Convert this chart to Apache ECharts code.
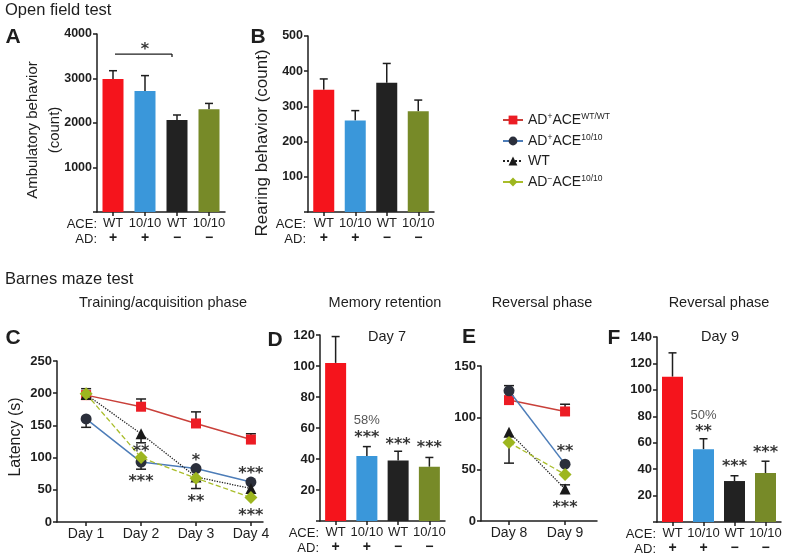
<!DOCTYPE html>
<html><head><meta charset="utf-8">
<script src="https://cdn.jsdelivr.net/npm/echarts@6/dist/echarts.min.js"></script>
<style>html,body{margin:0;padding:0;background:#fff}#c{width:788px;height:557px}</style>
</head><body><div id="c"></div>
<script>
// ---------- data ----------
const aceLabels = ['WT', '10/10', 'WT', '10/10'];
const adLabels = ['+', '+', '\u2212', '\u2212'];
const barColors = ['#f5141c', '#3a97da', '#222222', '#778a28'];

const ambulatoryMean = [2990, 2720, 2065, 2310];
const ambulatoryErrTop = [3175, 3065, 2180, 2440];
const ambulatorySig = [0, 2, 3550];
const rearingMean = [347, 260, 367, 286];
const rearingErrTop = [378, 288, 422, 318];
const day7Mean = [102, 42, 39, 35];
const day7ErrTop = [119, 48, 45, 41];
const day9Mean = [110, 55, 31, 37];
const day9ErrTop = [128, 63, 35, 46];

const trainingDays = [1, 2, 3, 4];
const reversalDays = [8, 9];
const groupNames = ['AD+ACE WT/WT', 'AD+ACE 10/10', 'WT', 'AD-ACE 10/10'];
const legendLabels = ['{n|AD}{s|+}{n|ACE}{s|WT/WT}', '{n|AD}{s|+}{n|ACE}{s|10/10}', '{n|WT}', '{n|AD}{s|\u2212}{n|ACE}{s|10/10}'];

const trainRed = [197, 179, 153, 128];
const trainRedErr = [207, 191, 171, 137];
const trainBlue = [160, 93, 83, 62];
const trainBlueErr = [147, 82, null, null];
const trainBlack = [198, 137, 70, 52];
const trainBlackErr = [191, 123, null, null];
const trainGreen = [199, 100, 68, 38];
const trainGreenErr = [null, null, 52, null];

const revRed = [117, 106];
const revRedErr = [null, 113];
const revBlue = [126, 55];
const revBlueErr = [131, null];
const revBlack = [86, 31];
const revBlackErr = [null, 35];
const revGreen = [76, 45];
const revGreenErr = [56, null];

const annotA = [[1, 3740, '*']];
const annotC = [[2, 115, '**'], [2, 68, '***'], [3, 101, '*'], [3, 37, '**'], [4, 81, '***'], [4, 16, '***']];
const annotD = [[1, 65, '58%'], [1, 56, '***'], [2, 52, '***'], [3, 50, '***']];
const annotE = [[9, 71, '**'], [9, 17, '***']];
const annotF = [[1, 81, '50%'], [1, 71, '**'], [2, 45, '***'], [3, 55, '***']];

// ---------- styles ----------
const FF = 'Liberation Sans, Arial, Helvetica, sans-serif';
const STAR_FF = 'DejaVu Sans, Liberation Sans, sans-serif';
const INK = '#1e1e1e';
const lineStyles = [
  { color: '#c9403a', type: 'solid', width: 1.5, symbol: 'rect', size: 10, mcolor: '#ec1c24' },
  { color: '#4d7db8', type: 'solid', width: 1.5, symbol: 'circle', size: 11, mcolor: '#2b2f3b' },
  { color: '#222222', type: 'dotted', width: 1.3, symbol: 'triangle', size: 11, mcolor: '#1a1a1a' },
  { color: '#a9bd2a', type: 'dashed', width: 1.3, symbol: 'diamond', size: 13, mcolor: '#9db61f' }
];

const grids = [], xAxes = [], yAxes = [], series = [];

function errRender(capHalf) {
  return function (params, api) {
    const x = api.value(0), m = api.value(1), e = api.value(2);
    const p0 = api.coord([x, m]), p1 = api.coord([x, e]);
    const st = { stroke: INK, lineWidth: 1.5 };
    return { type: 'group', children: [
      { type: 'line', shape: { x1: p0[0], y1: p0[1], x2: p1[0], y2: p1[1] }, style: st },
      { type: 'line', shape: { x1: p1[0] - capHalf, y1: p1[1], x2: p1[0] + capHalf, y2: p1[1] }, style: st }
    ] };
  };
}

function yAxisCfg(g, min, max, interval, showZero, fs) {
  return {
    type: 'value', gridIndex: g, min, max, interval,
    splitLine: { show: false },
    axisLine: { show: true, onZero: false, lineStyle: { color: INK, width: 1.5 } },
    axisTick: { show: true, length: 4, lineStyle: { color: INK, width: 1.5 } },
    axisLabel: { margin: 5, fontFamily: FF, fontWeight: 'bold', fontSize: fs, color: INK,
      formatter: v => (v === 0 && !showZero) ? '' : String(v) }
  };
}

function annotSeries(g, annots) {
  return {
    type: 'scatter', xAxisIndex: g, yAxisIndex: g, symbolSize: 1, silent: true, z: 10,
    itemStyle: { color: 'transparent' },
    data: annots.map(a => {
      const pct = a[2].indexOf('%') >= 0;
      return {
        value: [a[0], a[1]], name: a[2],
        label: pct
          ? { show: true, position: 'inside', formatter: '{b}', fontFamily: FF, fontSize: 13, color: '#2a2a2a' }
          : { show: true, position: 'inside', formatter: '{b}', fontFamily: STAR_FF, fontSize: 16, fontWeight: 'bold', color: '#000', offset: [0, 4] }
      };
    })
  };
}

function barPanel(g, rect, ymin, ymax, yint, fs, means, errTops, annots) {
  grids.push({ left: rect[0], top: rect[1], width: rect[2], height: rect[3] });
  xAxes.push({
    type: 'category', gridIndex: g, data: aceLabels,
    axisLine: { show: true, onZero: false, lineStyle: { color: INK, width: 1.5 } },
    axisTick: { show: true, alignWithLabel: true, length: 4, lineStyle: { color: INK, width: 1.5 } },
    axisLabel: { margin: 4, interval: 0, fontFamily: FF,
      formatter: (v, i) => '{a|' + v + '}\n{b|' + adLabels[i] + '}',
      rich: { a: { fontFamily: FF, fontSize: 13, lineHeight: 15, color: INK },
              b: { fontFamily: FF, fontSize: 14, fontWeight: 'bold', lineHeight: 15, color: INK } } }
  });
  yAxes.push(yAxisCfg(g, ymin, ymax, yint, false, fs));
  series.push({
    type: 'custom', xAxisIndex: g, yAxisIndex: g, silent: true, z: 1,
    renderItem: errRender(4), encode: { x: 0, y: [1, 2] },
    data: means.map((m, i) => [i, m, errTops[i]])
  });
  series.push({
    type: 'bar', xAxisIndex: g, yAxisIndex: g, barWidth: 21, silent: true, z: 2,
    data: means.map((m, i) => ({ value: m, itemStyle: { color: barColors[i] } }))
  });
  series.push(annotSeries(g, annots));
}

function linePanel(g, rect, xr, days, ymax, yint, fs, groups, annots) {
  grids.push({ left: rect[0], top: rect[1], width: rect[2], height: rect[3] });
  xAxes.push({
    type: 'value', gridIndex: g, min: xr[0], max: xr[1],
    splitLine: { show: false },
    axisLine: { show: true, onZero: false, lineStyle: { color: INK, width: 1.5 } },
    axisTick: { show: true, length: 4, customValues: days, lineStyle: { color: INK, width: 1.5 } },
    axisLabel: { margin: 5, customValues: days, fontFamily: FF, fontSize: 14, color: INK, formatter: v => 'Day ' + v }
  });
  yAxes.push(yAxisCfg(g, 0, ymax, yint, true, fs));
  const errData = [];
  groups.forEach(gr => gr[1].forEach((e, i) => { if (e !== null) errData.push([days[i], gr[0][i], e]); }));
  series.push({
    type: 'custom', xAxisIndex: g, yAxisIndex: g, silent: true, z: 1,
    renderItem: errRender(5), encode: { x: 0, y: [1, 2] }, data: errData
  });
  groups.forEach((gr, k) => {
    const s = lineStyles[k];
    series.push({
      type: 'line', name: groupNames[k], xAxisIndex: g, yAxisIndex: g, z: 3 + k,
      data: gr[0].map((v, i) => [days[i], v]),
      symbol: s.symbol, symbolSize: s.size, silent: true,
      lineStyle: { color: s.color, width: s.width, type: s.type },
      itemStyle: { color: s.mcolor, borderWidth: 0 }
    });
  });
  series.push(annotSeries(g, annots));
}

barPanel(0, [97, 34, 128, 178], 0, 4000, 1000, 12.5, ambulatoryMean, ambulatoryErrTop, annotA);
series.push({
  type: 'custom', xAxisIndex: 0, yAxisIndex: 0, silent: true, z: 5, encode: { x: [0, 1], y: 2 },
  data: [ambulatorySig],
  renderItem: function (params, api) {
    const a = api.coord([api.value(0), api.value(2)]);
    const b = api.coord([api.value(1), api.value(2)]);
    const st = { stroke: INK, lineWidth: 1.3 };
    return { type: 'group', children: [
      { type: 'line', shape: { x1: a[0] + 2, y1: a[1], x2: b[0] - 5, y2: b[1] }, style: st },
      { type: 'line', shape: { x1: b[0] - 5, y1: b[1], x2: b[0] - 5, y2: b[1] + 3 }, style: st }
    ] };
  }
});
barPanel(1, [308, 36, 126, 176], 0, 500, 100, 12.5, rearingMean, rearingErrTop, []);
linePanel(2, [57, 361, 206, 161], [0.47, 4.22], trainingDays, 250, 50, 13,
  [[trainRed, trainRedErr], [trainBlue, trainBlueErr], [trainBlack, trainBlackErr], [trainGreen, trainGreenErr]], annotC);
barPanel(3, [320, 335, 125, 186], 0, 120, 20, 13, day7Mean, day7ErrTop, annotD);
linePanel(4, [481, 366, 116, 155], [7.5, 9.57], reversalDays, 150, 50, 13,
  [[revRed, revRedErr], [revBlue, revBlueErr], [revBlack, revBlackErr], [revGreen, revGreenErr]], annotE);
barPanel(5, [657, 337, 124, 185], 0, 140, 20, 13, day9Mean, day9ErrTop, annotF);

function txt(text, x, y, size, opts) {
  opts = opts || {};
  return {
    type: 'text', x, y, rotation: opts.rot || 0, silent: true, z: 50,
    style: { text, fontFamily: FF, fontSize: size, fontWeight: opts.bold ? 'bold' : 'normal',
      fill: opts.color || INK, textAlign: opts.align || 'center', textVerticalAlign: 'middle',
      align: opts.align || 'center', verticalAlign: 'middle' }
  };
}
const R = Math.PI / 2;
const graphics = [
  txt('Open field test', 5, 10, 16.5, { align: 'left' }),
  txt('Barnes maze test', 5, 279, 16.5, { align: 'left' }),
  txt('Training/acquisition phase', 163, 303, 14.5),
  txt('Memory retention', 385, 303, 14.5),
  txt('Reversal phase', 542, 303, 14.5),
  txt('Reversal phase', 719, 303, 14.5),
  txt('Day 7', 387, 337, 14.5),
  txt('Day 9', 720, 337, 14.5),
  txt('A', 13, 37, 21, { bold: true }),
  txt('B', 258, 37, 21, { bold: true }),
  txt('C', 13, 338, 21, { bold: true }),
  txt('D', 275, 340, 21, { bold: true }),
  txt('E', 469, 337, 21, { bold: true }),
  txt('F', 614, 338, 21, { bold: true }),
  txt('Ambulatory behavior', 33, 130, 15, { rot: R }),
  txt('(count)', 55, 130, 15, { rot: R }),
  txt('Rearing behavior (count)', 262, 143, 17, { rot: R }),
  txt('Latency (s)', 16, 437, 16, { rot: R }),
  txt('ACE:', 97, 224, 13, { align: 'right' }),
  txt('AD:', 97, 239, 13, { align: 'right' }),
  txt('ACE:', 306, 224, 13, { align: 'right' }),
  txt('AD:', 306, 239, 13, { align: 'right' }),
  txt('ACE:', 319, 533, 13, { align: 'right' }),
  txt('AD:', 319, 548, 13, { align: 'right' }),
  txt('ACE:', 656, 534, 13, { align: 'right' }),
  txt('AD:', 656, 549, 13, { align: 'right' })
];

const chart = echarts.init(document.getElementById('c'), null, { renderer: 'canvas' });
chart.setOption({
  animation: false,
  backgroundColor: '#ffffff',
  grid: grids, xAxis: xAxes, yAxis: yAxes, series: series,
  legend: {
    data: groupNames, orient: 'vertical', left: 497, top: 107,
    itemWidth: 20, itemHeight: 11, itemGap: 6, selectedMode: false,
    formatter: name => legendLabels[groupNames.indexOf(name)],
    textStyle: { fontFamily: FF, fontSize: 14, color: INK,
      rich: { n: { fontFamily: FF, fontSize: 14, lineHeight: 16, color: INK, verticalAlign: 'middle' },
              s: { fontFamily: FF, fontSize: 8.5, lineHeight: 9, color: INK, verticalAlign: 'top' } } }
  },
  graphic: { elements: graphics }
});
</script></body></html>
